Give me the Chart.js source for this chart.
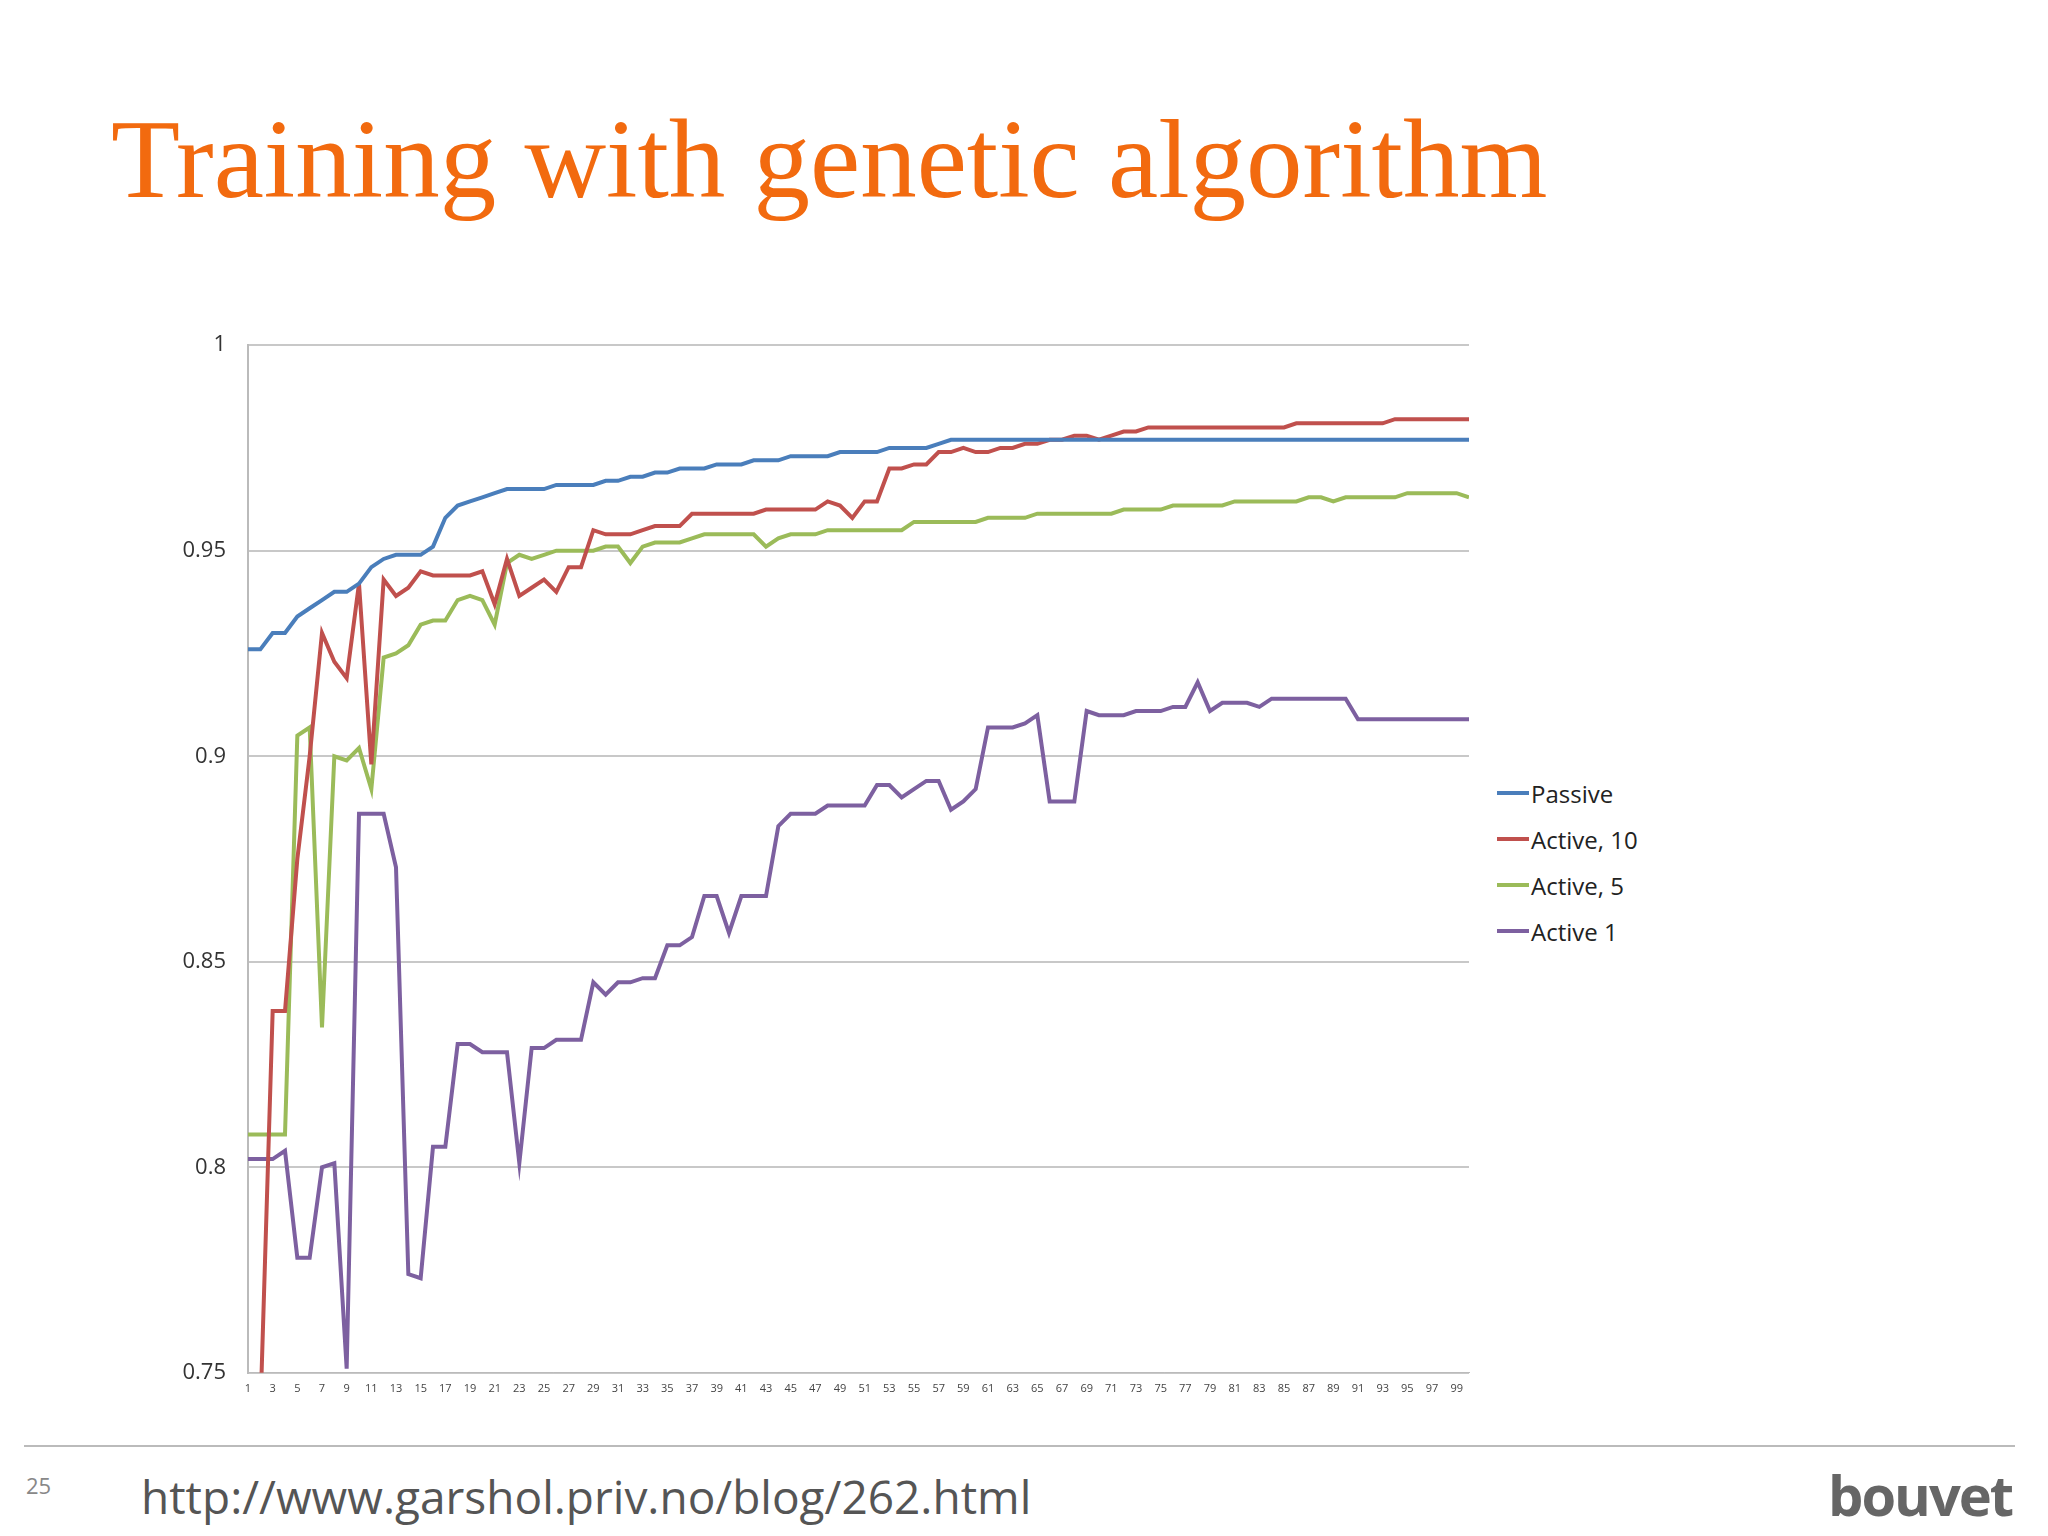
<!DOCTYPE html>
<html><head><meta charset="utf-8">
<script src="https://cdn.jsdelivr.net/npm/chart.js@4/dist/chart.umd.min.js"></script>
<style>
body{margin:0;width:2048px;height:1536px;background:#fff;position:relative;overflow:hidden;font-family:"Open Sans",sans-serif}
#title{position:absolute;left:111px;top:94px;font-family:"Liberation Serif",serif;font-size:113px;color:#f26a0f;white-space:nowrap}
#wrap{position:absolute;left:130px;top:310px;width:1344px;height:1098px}
#legend{position:absolute;left:1497px;top:770px;font-family:"Open Sans",sans-serif;font-size:24px;color:#222}
#legend div{height:46px;display:flex;align-items:center}
#legend span{display:inline-block;width:32px;height:4px;margin-right:2px}
#rule{position:absolute;left:24px;top:1445px;width:1991px;height:2px;background:#bbb}
#pg{position:absolute;left:26px;top:1470px;font-size:22px;color:#888}
#url{position:absolute;left:141px;top:1465px;font-size:46px;color:#555}
#logo{position:absolute;left:1828px;top:1456px;font-size:56px;font-weight:bold;color:#666;letter-spacing:-2px}
</style></head><body>
<div id="title">Training with genetic algorithm</div>
<div id="wrap"><canvas id="c"></canvas></div>
<div id="legend"></div>
<div id="rule"></div>
<div id="pg">25</div>
<div id="url">http://www.garshol.priv.no/blog/262.html</div>
<div id="logo">bouvet</div>
<script>
const labels = Array.from({length:100},(_,i)=>String(i+1));
const yTicks = [0.75,0.8,0.85,0.9,0.95,1];
const seriesNames = ["Passive","Active, 10","Active, 5","Active 1"];
const passive = [0.926,0.926,0.930,0.930,0.934,0.936,0.938,0.940,0.940,0.942,0.946,0.948,0.949,0.949,0.949,0.951,0.958,0.961,0.962,0.963,0.964,0.965,0.965,0.965,0.965,0.966,0.966,0.966,0.966,0.967,0.967,0.968,0.968,0.969,0.969,0.970,0.970,0.970,0.971,0.971,0.971,0.972,0.972,0.972,0.973,0.973,0.973,0.973,0.974,0.974,0.974,0.974,0.975,0.975,0.975,0.975,0.976,0.977,0.977,0.977,0.977,0.977,0.977,0.977,0.977,0.977,0.977,0.977,0.977,0.977,0.977,0.977,0.977,0.977,0.977,0.977,0.977,0.977,0.977,0.977,0.977,0.977,0.977,0.977,0.977,0.977,0.977,0.977,0.977,0.977,0.977,0.977,0.977,0.977,0.977,0.977,0.977,0.977,0.977,0.977];
const active10 = [0.62,0.74,0.838,0.838,0.875,0.900,0.930,0.923,0.919,0.942,0.898,0.943,0.939,0.941,0.945,0.944,0.944,0.944,0.944,0.945,0.937,0.948,0.939,0.941,0.943,0.940,0.946,0.946,0.955,0.954,0.954,0.954,0.955,0.956,0.956,0.956,0.959,0.959,0.959,0.959,0.959,0.959,0.960,0.960,0.960,0.960,0.960,0.962,0.961,0.958,0.962,0.962,0.970,0.970,0.971,0.971,0.974,0.974,0.975,0.974,0.974,0.975,0.975,0.976,0.976,0.977,0.977,0.978,0.978,0.977,0.978,0.979,0.979,0.980,0.980,0.980,0.980,0.980,0.980,0.980,0.980,0.980,0.980,0.980,0.980,0.981,0.981,0.981,0.981,0.981,0.981,0.981,0.981,0.982,0.982,0.982,0.982,0.982,0.982,0.982];
const active5 = [0.808,0.808,0.808,0.808,0.905,0.907,0.834,0.900,0.899,0.902,0.892,0.924,0.925,0.927,0.932,0.933,0.933,0.938,0.939,0.938,0.932,0.947,0.949,0.948,0.949,0.950,0.950,0.950,0.950,0.951,0.951,0.947,0.951,0.952,0.952,0.952,0.953,0.954,0.954,0.954,0.954,0.954,0.951,0.953,0.954,0.954,0.954,0.955,0.955,0.955,0.955,0.955,0.955,0.955,0.957,0.957,0.957,0.957,0.957,0.957,0.958,0.958,0.958,0.958,0.959,0.959,0.959,0.959,0.959,0.959,0.959,0.960,0.960,0.960,0.960,0.961,0.961,0.961,0.961,0.961,0.962,0.962,0.962,0.962,0.962,0.962,0.963,0.963,0.962,0.963,0.963,0.963,0.963,0.963,0.964,0.964,0.964,0.964,0.964,0.963];
const active1 = [0.802,0.802,0.802,0.804,0.778,0.778,0.800,0.801,0.751,0.886,0.886,0.886,0.873,0.774,0.773,0.805,0.805,0.830,0.830,0.828,0.828,0.828,0.801,0.829,0.829,0.831,0.831,0.831,0.845,0.842,0.845,0.845,0.846,0.846,0.854,0.854,0.856,0.866,0.866,0.857,0.866,0.866,0.866,0.883,0.886,0.886,0.886,0.888,0.888,0.888,0.888,0.893,0.893,0.890,0.892,0.894,0.894,0.887,0.889,0.892,0.907,0.907,0.907,0.908,0.910,0.889,0.889,0.889,0.911,0.910,0.910,0.910,0.911,0.911,0.911,0.912,0.912,0.918,0.911,0.913,0.913,0.913,0.912,0.914,0.914,0.914,0.914,0.914,0.914,0.914,0.909,0.909,0.909,0.909,0.909,0.909,0.909,0.909,0.909,0.909];
const colors = ["#4a7ebb","#c0504d","#9bbb59","#7d60a0"];
const all = [passive,active10,active5,active1];
document.getElementById('legend').innerHTML = seriesNames.map((n,i)=>`<div><span style="background:${colors[i]}"></span>${n}</div>`).join('');
new Chart(document.getElementById('c'),{
  type:'line',
  data:{labels,datasets:all.map((d,i)=>({label:seriesNames[i],data:d,borderColor:colors[i],borderWidth:4,pointRadius:0,tension:0,fill:false}))},
  options:{responsive:true,maintainAspectRatio:false,animation:false,
    layout:{padding:{top:12,right:5,left:0,bottom:0}},
    plugins:{legend:{display:false},tooltip:{enabled:false}},
    clip:{left:0,right:0,top:5,bottom:0},
    scales:{
      x:{offset:false,grid:{display:false,drawTicks:true,tickLength:6,color:'#999'},border:{color:'#bbb'},
        afterFit:s=>{s.height=30;},
        ticks:{autoSkip:false,maxRotation:0,color:'#444',font:{size:11,family:'Open Sans'},callback:(v,i)=>i%2===0?labels[i]:''}},
      y:{min:0.75,max:1,afterFit:s=>{s.width=118;},afterBuildTicks:s=>{s.ticks=yTicks.map(v=>({value:v}));},
        grid:{color:'#c8c8c8',lineWidth:2,drawTicks:false},border:{color:'#bbb',width:2},
        ticks:{color:'#333',padding:22,font:{size:22,family:'Open Sans'},callback:v=>String(+v.toFixed(2))}}
    }}
});
</script>
</body></html>
